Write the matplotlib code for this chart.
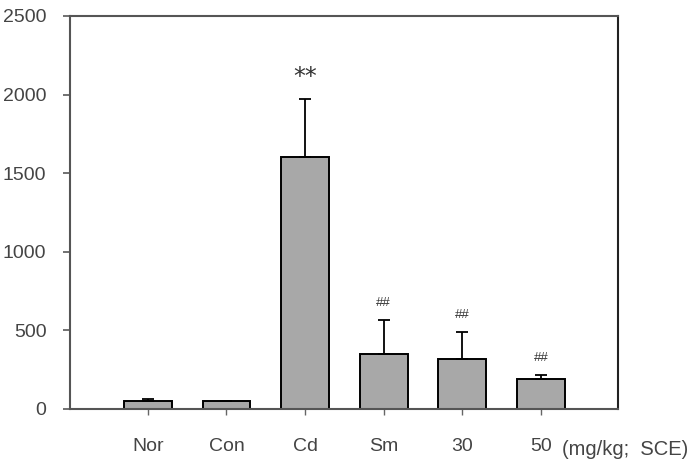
import numpy as np
import matplotlib
matplotlib.use("Agg")
import matplotlib.pyplot as plt

plt.rcParams['font.family'] = ['Liberation Sans', 'DejaVu Sans']

groups = ['Nor', 'Con', 'Cd', 'Sm', '30', '50']
means = [53, 49, 1600, 348, 316, 189]
errors = [12, 3, 372, 218, 172, 25]
marks = ['', '', '**', '##', '##', '##']
y_ticks = [0, 500, 1000, 1500, 2000, 2500]
unit_note = '(mg/kg;  SCE)'

fig = plt.figure(figsize=(6.92, 4.61), dpi=100)
ax = fig.add_axes([0.1012, 0.1128, 0.7919, 0.8525])

x = np.arange(len(groups))
ax.bar(x, means, width=0.61, color='#a8a8a8', edgecolor='black', linewidth=1.4, zorder=2)
# only the upper half of the error bars is shown
ax.errorbar(x, means, yerr=[np.zeros(len(means)), errors], fmt='none',
            ecolor='black', elinewidth=1.3, capsize=4.5, capthick=1.3, zorder=3)

for i, m in enumerate(marks):
    if m == '**':
        ax.annotate(m, (x[i], means[i] + errors[i]), xytext=(0, 7), textcoords='offset points',
                    ha='center', va='bottom', fontsize=17, color='#333333', fontfamily='DejaVu Sans')
    elif m:
        ax.annotate(m, (x[i], means[i] + errors[i]), xytext=(0, 8), textcoords='offset points',
                    ha='center', va='bottom', fontsize=9.5, color='#333333')

ax.set_xlim(-0.99, 5.98)
ax.set_ylim(0, 2500)
ax.set_xticks(x)
ax.set_xticklabels(groups)
ax.set_yticks(y_ticks)

for s in ax.spines.values():
    s.set_color('#555555')
    s.set_linewidth(1.5)
ax.spines['right'].set_color('#222222')

ax.tick_params(axis='y', length=5, width=1.3, color='#666666', labelsize=14, labelcolor='#444444', pad=12)
ax.tick_params(axis='x', length=4, width=1.0, color='#666666', labelsize=14, labelcolor='#444444', pad=17)

ax.annotate(unit_note, (5, 0), xycoords='data', xytext=(15, -22), textcoords='offset points',
            ha='left', va='top', fontsize=14.5, color='#444444', annotation_clip=False)

fig.savefig('out.png', dpi=100)
